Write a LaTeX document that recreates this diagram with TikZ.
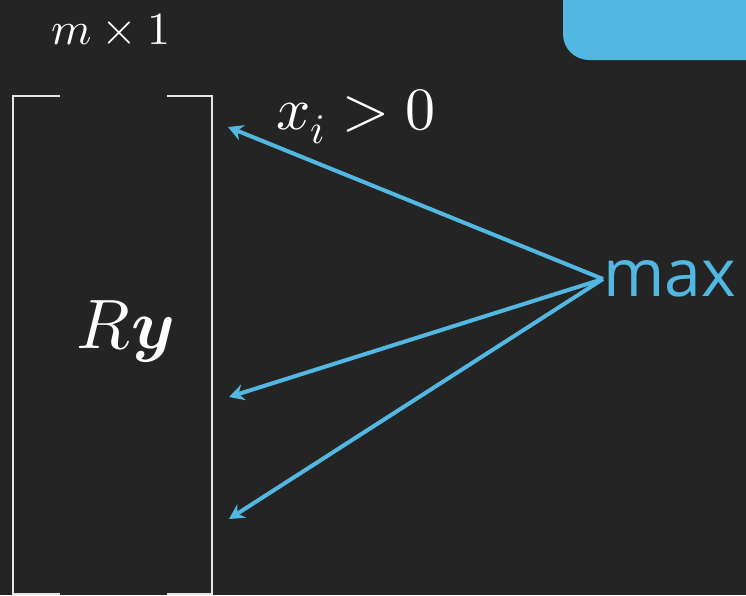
\documentclass[tikz,border=0pt]{standalone}
\usepackage{amsmath,fontspec,unicode-math,xcolor,tikz}
\usetikzlibrary{arrows.meta,positioning,calc}
\setmathfont{Latin Modern Math}
\newfontfamily\labelfont{Open Sans}
\definecolor{board}{HTML}{242424}
\definecolor{chalk}{HTML}{E6E6E6}
\definecolor{skyblue}{HTML}{52B8E2}
\tikzset{
bracket/.style={draw=chalk,line width=2.5pt},
pointer/.style={draw=skyblue,line width=4pt,-{Stealth[length=15pt,width=16pt]}},
mathlabel/.style={text=white,inner sep=0pt},
tab/.style={fill=skyblue,rounded corners=26pt}
}

\begin{document}
\begin{tikzpicture}[x=1pt,y=-1pt]
\useasboundingbox (0,0) rectangle (746,595);
\clip (0,0) rectangle (746,595);
\fill[board] (0,0) rectangle (746,595);
\fill[tab] (563,-40) rectangle (780,60);
% column vector
\draw[bracket] (60,96) -- (13,96) -- (13,594) -- (60,594);
\draw[bracket] (167,96) -- (212,96) -- (212,594) -- (167,594);
\node[mathlabel,font=\fontsize{46}{48}\selectfont,anchor=base](size) at (111,44){$m\times 1$};
\node[mathlabel,font=\fontsize{70}{74}\selectfont,anchor=base](vec) at (125,348){$R\symbfit{y}$};
\node[mathlabel,font=\fontsize{60}{64}\selectfont,anchor=base west](cond) at (276,129){$x_i>0$};
\node[text=skyblue,inner sep=0pt,anchor=west,font=\labelfont\fontsize{66}{68}\selectfont](mx) at (603,279){max};
\coordinate(e1) at (228,127);
\coordinate(e2) at (229,397);
\coordinate(e3) at (229,519);
\draw[pointer](mx.west)--(e1);\draw[pointer](mx.west)--(e2);\draw[pointer](mx.west)--(e3);
\end{tikzpicture}
\end{document}
